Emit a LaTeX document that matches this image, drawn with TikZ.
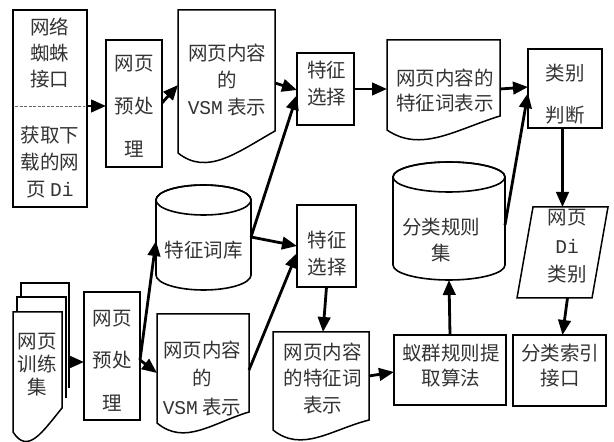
\documentclass[tikz,border=0pt]{standalone}
\usepackage{fontspec}
\setmainfont{Noto Sans CJK SC}
\newfontfamily\lat{Liberation Mono}
\usetikzlibrary{calc,arrows.meta}
\newcommand{\docout}[2]{%
  \draw[docline] ($(#1.south east)+(0,#2)$) -- (#1.north east) -- (#1.north west) -- (#1.south west)
    .. controls ($(#1.south west)!0.3!(#1.south east)+(0,-23)$) and ($(#1.south west)!0.6!(#1.south east)$) .. ($(#1.south east)+(0,#2)$) -- cycle;}
\newcommand{\cylout}[3]{%
  \draw[cylline] ($(#1.north west)+(0,-#3)$) -- ($(#1.south west)+(0,#3)$)
    arc[start angle=180,end angle=360,x radius=#2,y radius=#3] -- ($(#1.north east)+(0,-#3)$)
    arc[start angle=0,end angle=180,x radius=#2,y radius=#3] -- cycle;
  \draw[cylline, fill=none] ($(#1.north)+(0,-#3)$) ellipse[x radius=#2, y radius=#3];}
\begin{document}
\begin{tikzpicture}[x=1pt,y=1pt,
  shapebox/.style={draw=black, line width=1.9pt, inner sep=0pt, outer sep=0pt, fill=white},
  ghost/.style={inner sep=0pt, outer sep=0pt},
  docline/.style={draw=black, line width=1.5pt, fill=white},
  cylline/.style={draw=black, line width=1.6pt, fill=white},
  sepline/.style={draw=black!60, line width=0.8pt, dash pattern=on 3pt off 1.5pt},
  txt/.style={font=\fontsize{19.5}{#1}\selectfont, align=center, inner sep=0pt, text=black!80},
  txt/.default=26,
  arr/.style={line width=2.8pt, -{Triangle[length=15pt,width=12.5pt]}},
]
\useasboundingbox[fill=white] (0,0) rectangle (614,442);

% spider interface
\node[shapebox, minimum width=74pt, minimum height=197pt] (spider) at (50,333.5) {};
\draw[sepline] ($(spider.west |- 0,336)+(2,0)$) -- ($(spider.east |- 0,336)+(-2,0)$);
\node[txt] (spider-a) at (50,389.5) {网络\\蜘蛛\\接口};
\node[txt=27] (spider-b) at (50,279.5) {获取下\\载的网\\页 {\lat Di}};

% preprocessing (top)
\node[shapebox, minimum width=56pt, minimum height=127pt] (pre1) at (134,338.5) {};
\node[txt=43] (pre1-t) at (134,336) {网页\\预处\\理};

% VSM document (top)
\node[ghost, minimum width=97pt, minimum height=143pt] (vsm1) at (226.5,360.5) {};
\docout{vsm1}{22}
\node[txt=27] (vsm1-t) at (227,362) {网页内容\\的\\{\lat VSM} 表示};

% feature selection (top)
\node[shapebox, minimum width=57pt, minimum height=72pt] (fs1) at (325.5,353) {};
\node[txt=27] (fs1-t) at (326.5,358.5) {特征\\选择};

% feature word document (top)
\node[ghost, minimum width=113pt, minimum height=90pt] (feat1) at (443.5,357) {};
\docout{feat1}{14}
\node[txt=25] (feat1-t) at (445,351.5) {网页内容的\\特征词表示};

% class judgement
\node[shapebox, minimum width=74pt, minimum height=79pt] (judge) at (565,353.5) {};
\node[txt=42] (judge-t) at (565,348) {类别\\判断};

% feature word library
\node[ghost, minimum width=95pt, minimum height=105pt] (cyl1) at (203.5,204.5) {};
\cylout{cyl1}{47.5}{15}
\node[txt] (cyl1-t) at (203.5,192) {特征词库};

% feature selection (bottom)
\node[shapebox, minimum width=59pt, minimum height=82pt] (fs2) at (326.5,196) {};
\node[txt=27] (fs2-t) at (327,188.5) {特征\\选择};

% classification rule set
\node[ghost, minimum width=112pt, minimum height=118pt] (cyl2) at (449,221) {};
\cylout{cyl2}{56}{15}
\node[txt=26] (cyl2-t) at (441,202) {分类规则\\集};

% page Di class
\node[ghost, minimum width=75pt, minimum height=91pt] (para) at (562.5,189.5) {};
\draw[docline] ($(para.south west)+(-8,0)$) -- ($(para.north west)+(8,0)$) -- ($(para.north east)+(8,0)$) -- ($(para.south east)+(-8,0)$) -- cycle;
\node[txt=28.5] (para-t) at (567,195.5) {网页\\{\lat Di}\\类别};

% classification index interface
\node[shapebox, minimum width=93pt, minimum height=71pt] (index) at (559.5,71.5) {};
\node[txt=25] (index-t) at (560,76.5) {分类索引\\接口};

% ant colony rule extraction
\node[shapebox, minimum width=112pt, minimum height=70pt] (ant) at (450,72) {};
\node[txt=25] (ant-t) at (451,76.5) {蚁群规则提\\取算法};

% feature word document (bottom)
\node[ghost, minimum width=96pt, minimum height=98pt] (feat2) at (321,61) {};
\docout{feat2}{10}
\node[txt=26.5] (feat2-t) at (322.5,63.5) {网页内容\\的特征词\\表示};

% VSM document (bottom)
\node[ghost, minimum width=92pt, minimum height=109pt] (vsm2) at (203,73.5) {};
\docout{vsm2}{11}
\node[txt=28.5] (vsm2-t) at (202,63.5) {网页内容\\的\\{\lat VSM} 表示};

% preprocessing (bottom)
\node[shapebox, minimum width=56pt, minimum height=128pt] (pre2) at (112,86) {};
\node[txt=42.5] (pre2-t) at (112,81.5) {网页\\预处\\理};

% training set (multi-document)
\node[ghost, minimum width=49pt, minimum height=120pt] (train) at (37.5,70) {};
\draw[docline, fill=none] ($(train.north west)+(8,15)$) -- ($(train.north west)+(8,29)$) -- ($(train.north east)+(7,29)$) -- ($(train.north east)+(7,-76)$);
\draw[docline, fill=none] ($(train.north west)+(4,0)$) -- ($(train.north west)+(4,15)$) -- ($(train.north east)+(4,15)$) -- ($(train.north east)+(4,-86)$);
\docout{train}{24}
\node[txt=23] (train-t) at (37,77) {网页\\训练\\集};

% connectors
\draw[arr] (spider.east |- 0,336) -- (pre1.west |- 0,336);
\draw[arr] (pre1.east |- 0,339) -- (vsm1.west |- 0,357);
\draw[arr] (vsm1.east |- 0,359) -- (fs1.west |- 0,352);
\draw[arr] (cyl1.east |- 0,205) -- (fs1.west |- 0,347);
\draw[arr] (cyl1.east |- 0,205) -- (fs2.west |- 0,196);
\draw[arr] (vsm2.east |- 0,72) -- (fs2.west |- 0,189);
\draw[arr] (fs1.east) -- (feat1.west |- fs1.east);
\draw[arr] (feat1.east |- 0,353) -- (judge.west |- 0,355);
\draw[arr] (cyl2.east |- 0,217) -- (judge.west |- 0,349);
\draw[arr] (judge.south -| para.north) -- (para.north);
\draw[arr] ([xshift=5pt]para.south) -- ([xshift=3pt]index.north);
\draw[arr] (fs2.south) -- ([xshift=2pt]feat2.north);
\draw[arr] (feat2.east |- 0,66) -- (ant.west |- 0,70);
\draw[arr] (ant.north) -- (cyl2.south);
\draw[arr] (pre2.east |- 0,82) -- (cyl1.west |- 0,201);
\draw[arr] (pre2.east |- 0,82) -- (vsm2.west |- 0,69);
\draw[arr] ($(train.east |- 0,80)+(7,0)$) -- (pre2.west |- 0,80);
\end{tikzpicture}
\end{document}
